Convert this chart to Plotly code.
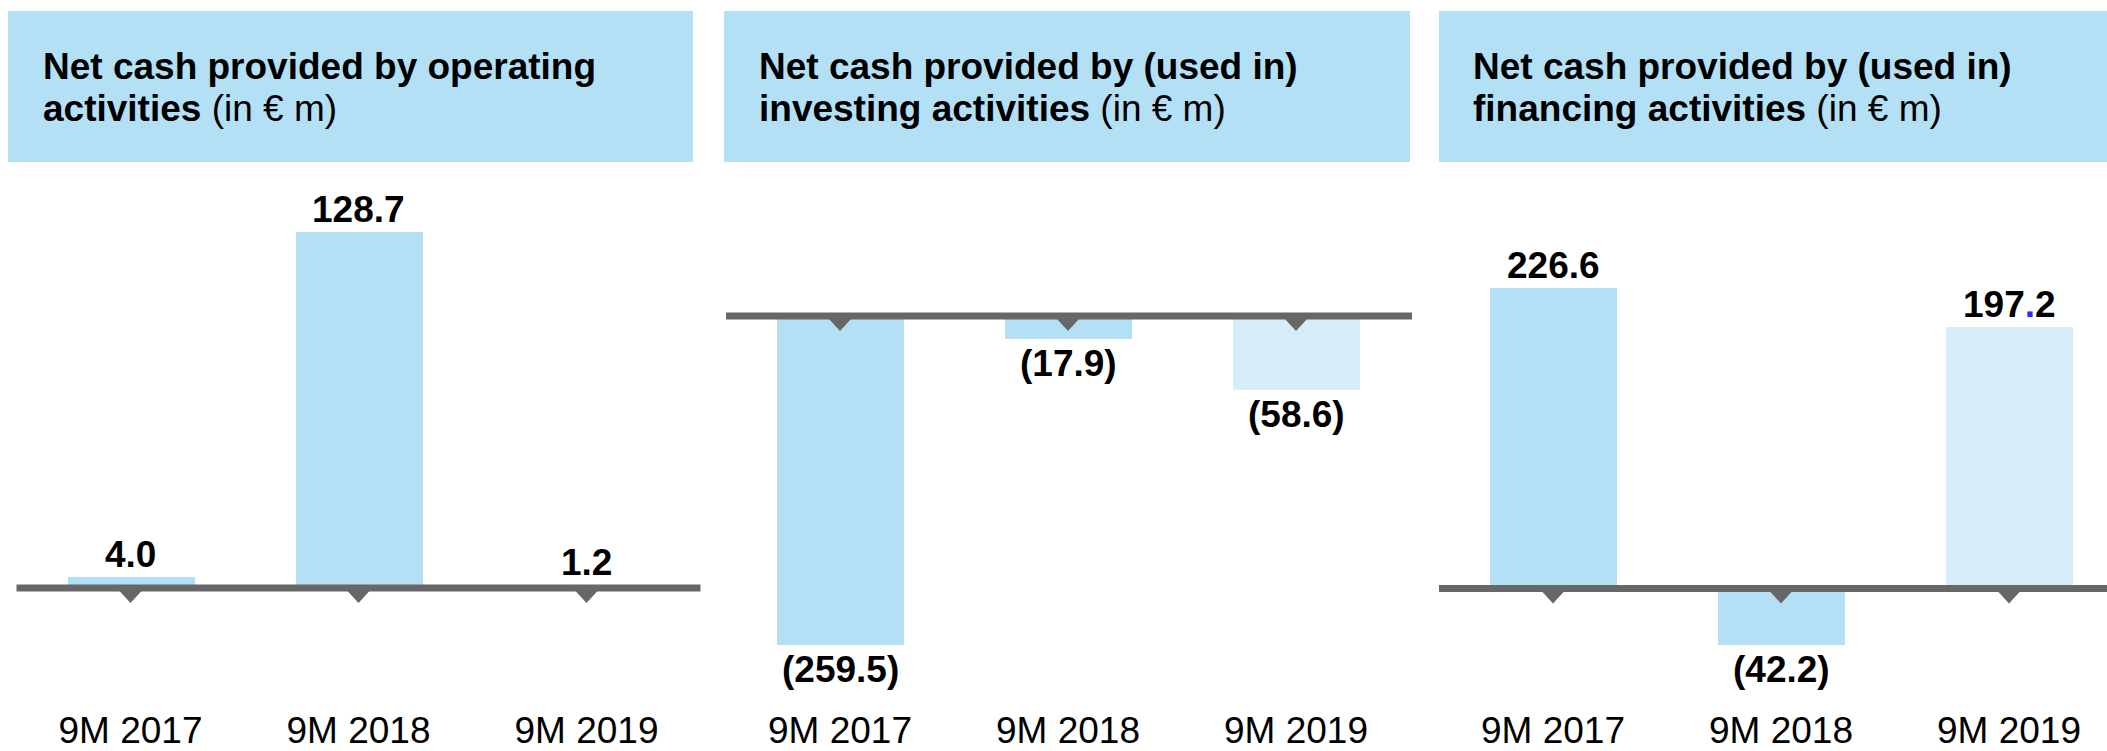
import plotly.graph_objects as go

W, H = 2107, 751

# ---- data ----
categories = ["9M 2017", "9M 2018", "9M 2019"]
operating = [4.0, 128.7, 1.2]
investing = [-259.5, -17.9, -58.6]
financing = [226.6, -42.2, 197.2]

title_line1 = ["Net cash provided by operating",
               "Net cash provided by (used in)",
               "Net cash provided by (used in)"]
title_line2_bold = ["activities", "investing activities", "financing activities"]
unit_text = "(in € m)"

# ---- style ----
BAR = "#b3e0f5"
BAR_LIGHT = "#d5ecf9"
HEADER = "#b3e0f5"
AXIS = "#676767"
FONT = "Liberation Sans, Arial, Helvetica, sans-serif"
FS = 37

# panel layout (pixels)
panels = [
    dict(values=operating, x0=16.5, x1=700.5, zero=592.0, scale=2.789, box=(8, 693), tx=41, dot=None),
    dict(values=investing, x0=726, x1=1412, zero=318.0, scale=1.2755, box=(724, 1410), tx=757, dot=None),
    dict(values=financing, x0=1439, x1=2107, zero=592.5, scale=1.335, box=(1439, 2107), tx=1471, dot=2),
]
UNIT_PX = 228.0  # pixels per category step
Y_TOP, Y_BOT = 170, 710
BOX_TOP, BOX_BOT = 11, 163


def fmt(v, blue_dot=False):
    s = f"{abs(v):.1f}"
    if blue_dot:
        s = s.replace(".", "<span style='color:#2b2bff'>.</span>")
    return f"({s})" if v < 0 else s


fig = go.Figure()
shapes = []
annotations = []
xs = list(range(len(categories)))

for k, p in enumerate(panels, start=1):
    sfx = "" if k == 1 else str(k)
    xref, yref = f"x{sfx}", f"y{sfx}"
    vals = p["values"]
    colors = [BAR if i < len(vals) - 1 else BAR_LIGHT for i in range(len(vals))]
    fig.add_trace(go.Bar(x=xs, y=vals, marker=dict(color=colors, line=dict(width=0)),
                         width=0.557, xaxis=xref, yaxis=yref, showlegend=False,
                         hoverinfo="skip"))

    xmax = -0.5 + (p["x1"] - p["x0"]) / UNIT_PX
    ytop = (p["zero"] - Y_TOP) / p["scale"]
    ybot = -(Y_BOT - p["zero"]) / p["scale"]
    fig.update_layout({
        f"xaxis{sfx}": dict(domain=[p["x0"] / W, p["x1"] / W], range=[-0.5, xmax],
                            anchor=yref, tickvals=xs, ticktext=categories,
                            tickfont=dict(family=FONT, size=FS, color="black"),
                            showgrid=False, zeroline=False, showline=False, ticks="",
                            fixedrange=True),
        f"yaxis{sfx}": dict(domain=[1 - Y_BOT / H, 1 - Y_TOP / H], range=[ybot, ytop],
                            anchor=xref, visible=False, fixedrange=True),
    })

    # baseline
    shapes.append(dict(type="line", xref=f"{xref} domain", yref=yref, x0=0, x1=1, y0=0, y1=0,
                       line=dict(color=AXIS, width=7), layer="above"))
    # triangle markers under baseline
    for i in xs:
        shapes.append(dict(type="path", xref=xref, yref=yref, xsizemode="pixel", ysizemode="pixel",
                           xanchor=i, yanchor=0, path="M-11,-3 L11,-3 L0,-15 Z",
                           fillcolor=AXIS, line=dict(width=0), layer="above"))
    # header box
    shapes.append(dict(type="rect", xref="paper", yref="paper",
                       x0=p["box"][0] / W, x1=p["box"][1] / W,
                       y0=1 - BOX_BOT / H, y1=1 - BOX_TOP / H,
                       fillcolor=HEADER, line=dict(width=0), layer="below"))
    # header title
    annotations.append(dict(xref="paper", yref="paper", x=p["tx"] / W, y=1 - 67 / H,
                            xanchor="left", yanchor="middle", showarrow=False,
                            text=f"<b>{title_line1[k-1]}</b>",
                            font=dict(family=FONT, size=FS, color="black")))
    annotations.append(dict(xref="paper", yref="paper", x=p["tx"] / W, y=1 - 109 / H,
                            xanchor="left", yanchor="middle", showarrow=False,
                            text=f"<b>{title_line2_bold[k-1]}</b> {unit_text}",
                            font=dict(family=FONT, size=FS, color="black")))
    # value labels
    for i, v in enumerate(vals):
        annotations.append(dict(xref=xref, yref=yref, x=i, y=v,
                                xanchor="center", yanchor="bottom" if v >= 0 else "top",
                                yshift=0 if v >= 0 else -2, showarrow=False,
                                text=f"<b>{fmt(v, p['dot'] == i)}</b>",
                                font=dict(family=FONT, size=FS, color="black")))

fig.update_layout(width=W, height=H, margin=dict(l=0, r=0, t=0, b=0),
                  paper_bgcolor="white", plot_bgcolor="white",
                  shapes=shapes, annotations=annotations, bargap=0,
                  font=dict(family=FONT))

fig.write_html("out.html", config={"displayModeBar": False},
               post_script="document.body.style.margin='0';document.body.style.overflow='hidden';")
